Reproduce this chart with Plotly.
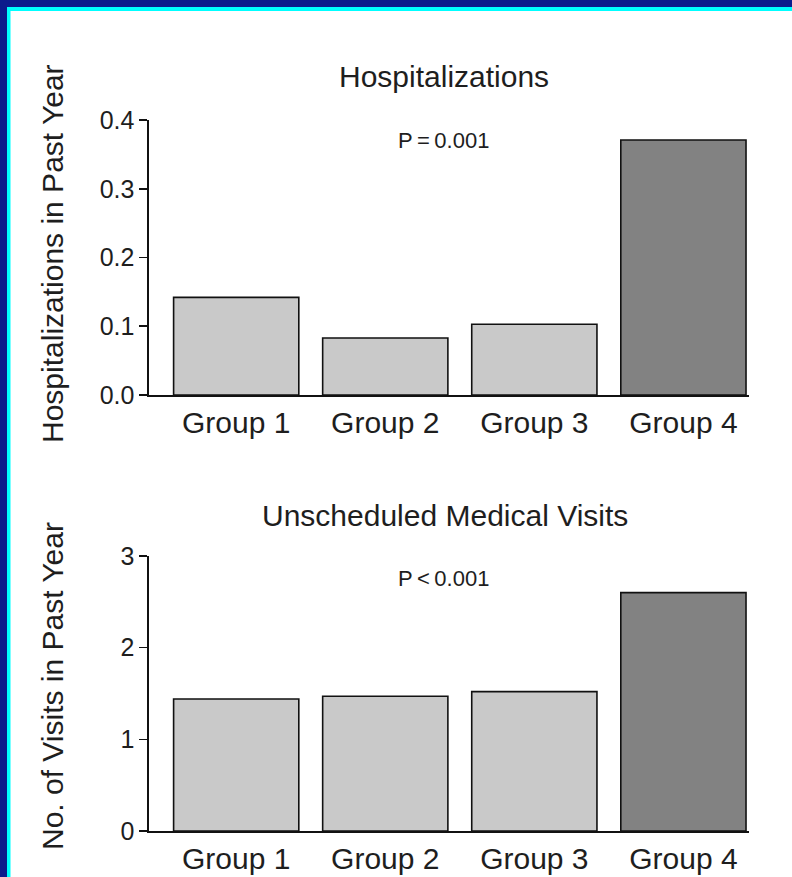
import plotly.graph_objects as go

groups = ["Group 1", "Group 2", "Group 3", "Group 4"]
hosp = [0.142, 0.083, 0.103, 0.371]
visits = [1.44, 1.47, 1.52, 2.60]
bar_colors = ["#c9c9c9", "#c9c9c9", "#c9c9c9", "#828282"]
hosp_ticks = [0.0, 0.1, 0.2, 0.3, 0.4]
hosp_ticktext = ["0.0", "0.1", "0.2", "0.3", "0.4"]
visit_ticks = [0, 1, 2, 3]

W, H = 792, 877
def px(x):
    return x / W
def py(y):
    return 1 - y / H

FONT = "Liberation Sans, Arial, sans-serif"
TXT = "#1e1e1e"

fig = go.Figure()
fig.add_trace(go.Bar(x=groups, y=hosp, marker=dict(color=bar_colors, line=dict(color="#111", width=1.6)),
                     width=0.84, xaxis="x", yaxis="y", showlegend=False))
fig.add_trace(go.Bar(x=groups, y=visits, marker=dict(color=bar_colors, line=dict(color="#111", width=1.6)),
                     width=0.84, xaxis="x2", yaxis="y2", showlegend=False))

xcommon = dict(type="category", range=[-0.585, 3.44], showline=True, linecolor="#111", linewidth=1.6,
               ticks="", showgrid=False, zeroline=False, tickfont=dict(family=FONT, size=30, color=TXT),
               fixedrange=True, automargin=False)
ycommon = dict(showline=True, linecolor="#111", linewidth=1.6, ticks="outside", ticklen=8, tickwidth=1.6,
               tickcolor="#111", showgrid=False, zeroline=False, automargin=False, fixedrange=True,
               tickfont=dict(family=FONT, size=25, color=TXT))

fig.update_layout(
    template="none",
    width=W, height=H, autosize=False,
    margin=dict(l=0, r=0, t=0, b=0, pad=0, autoexpand=False),
    paper_bgcolor="white", plot_bgcolor="rgba(0,0,0,0)",
    bargap=0,
    xaxis=dict(domain=[px(149), px(749)], anchor="y", **xcommon),
    yaxis=dict(domain=[py(395), py(120)], anchor="x", range=[0, 0.4], tickvals=hosp_ticks,
               ticktext=hosp_ticktext, **ycommon),
    xaxis2=dict(domain=[px(149), px(749)], anchor="y2", **xcommon),
    yaxis2=dict(domain=[py(831), py(556)], anchor="x2", range=[0, 3], tickvals=visit_ticks, **ycommon),
)

ann = [
    dict(text="Hospitalizations", x=px(444), y=py(77), size=30),
    dict(text="P\u2009=\u20090.001", x=px(443), y=py(141), size=22),
    dict(text="Unscheduled Medical Visits", x=px(445), y=py(515), size=30),
    dict(text="P\u2009<\u20090.001", x=px(443), y=py(578), size=22),
]
for a in ann:
    fig.add_annotation(text=a["text"], x=a["x"], y=a["y"], xref="paper", yref="paper",
                       showarrow=False, xanchor="center", yanchor="middle",
                       font=dict(family=FONT, size=a["size"], color=TXT))
fig.add_annotation(text="Hospitalizations in Past Year", x=px(52), y=py(254), xref="paper", yref="paper",
                   showarrow=False, textangle=-90, xanchor="center", yanchor="middle",
                   font=dict(family=FONT, size=30, color=TXT))
fig.add_annotation(text="No. of Visits in Past Year", x=px(52), y=py(686), xref="paper", yref="paper",
                   showarrow=False, textangle=-90, xanchor="center", yanchor="middle",
                   font=dict(family=FONT, size=30, color=TXT))

blue = "#0c1b8c"
cyan = "#00ffff"
shapes = [
    dict(type="rect", x0=0, x1=px(7), y0=0, y1=1, fillcolor=blue),
    dict(type="rect", x0=0, x1=1, y0=py(7), y1=1, fillcolor=blue),
    dict(type="rect", x0=px(7), x1=px(10.5), y0=0, y1=py(7), fillcolor=cyan),
    dict(type="rect", x0=px(7), x1=1, y0=py(11), y1=py(7), fillcolor=cyan),
]
for s in shapes:
    fig.add_shape(xref="paper", yref="paper", line=dict(width=0), layer="above", **s)

fig.write_html("out.html", config={"displayModeBar": False, "staticPlot": True},
               post_script="document.body.style.margin='0';document.body.style.overflow='hidden';"
                           "document.documentElement.style.overflow='hidden';")
